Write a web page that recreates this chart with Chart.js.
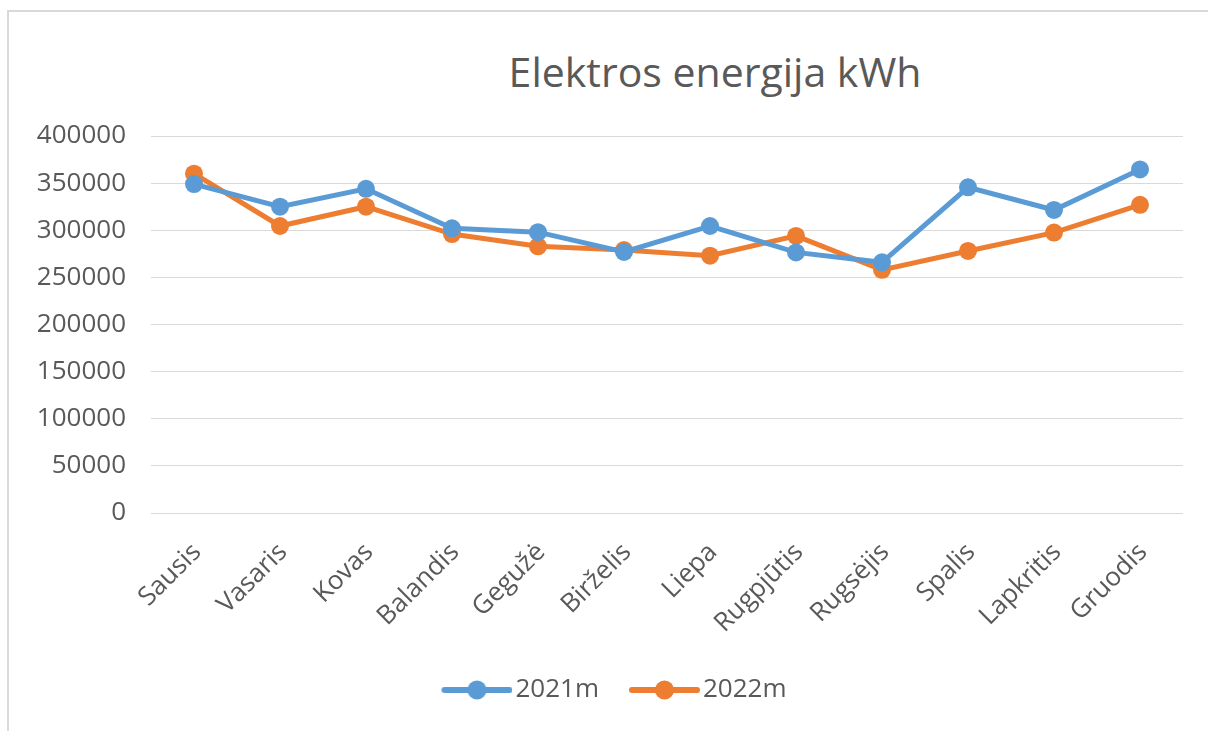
<!DOCTYPE html>
<html>
<head>
<meta charset="utf-8">
<title>Elektros energija kWh</title>
<script src="https://cdn.jsdelivr.net/npm/chart.js@4.4.1/dist/chart.umd.min.js"></script>
<style>
  html, body { margin: 0; padding: 0; background: #fff; overflow: hidden; }
  #frame { position: absolute; left: 7px; top: 10px; width: 1300px; height: 800px;
           border-left: 2px solid #d9d9d9; border-top: 2px solid #d9d9d9; }
  #chartTitle { position: absolute; left: 0; top: 44px; width: 1430px; text-align: center;
                font: 41px 'Open Sans', sans-serif; line-height: 54px; color: #595959; }
  #chartBox { position: absolute; left: 0; top: 0; width: 1208px; height: 731px; }
</style>
</head>
<body>
<div id="frame"></div>
<div id="chartTitle">Elektros energija kWh</div>
<div id="chartBox"><canvas id="energyChart"></canvas></div>
<script>
// Monthly electricity use, kWh
const months = ['Sausis', 'Vasaris', 'Kovas', 'Balandis', 'Gegužė', 'Birželis',
                'Liepa', 'Rugpjūtis', 'Rugsėjis', 'Spalis', 'Lapkritis', 'Gruodis'];
const seriesNames = ['2021m', '2022m'];
const usage2021 = [349000, 325000, 344000, 302000, 298000, 277000, 304500, 276500, 266000, 345500, 321500, 364500];
const usage2022 = [360000, 304500, 325000, 296000, 283000, 279000, 273000, 294000, 258000, 278000, 297500, 327000];
const yTicks = [0, 50000, 100000, 150000, 200000, 250000, 300000, 350000, 400000];

const blue = '#5b9bd5';
const orange = '#ed7d31';
const textGrey = '#595959';
const font = { family: "'Open Sans', sans-serif", size: 26 };
const padLeft = 35;

// legend symbol: short line with a dot in the middle
function legendMarker(color) {
    const c = document.createElement('canvas');
    c.width = 91;
    c.height = 22;
    const g = c.getContext('2d');
    g.strokeStyle = color;
    g.lineWidth = 6;
    g.lineCap = 'round';
    g.beginPath();
    g.moveTo(23, 11);
    g.lineTo(88, 11);
    g.stroke();
    g.fillStyle = color;
    g.beginPath();
    g.arc(55.5, 11, 9.5, 0, Math.PI * 2);
    g.fill();
    return c;
}
const markers = [legendMarker(blue), legendMarker(orange)];

const ctx = document.getElementById('energyChart').getContext('2d');
new Chart(ctx, {
    type: 'line',
    data: {
        labels: months,
        datasets: [
            {
                label: seriesNames[0],
                data: usage2021,
                borderColor: blue,
                backgroundColor: blue,
                borderWidth: 5,
                pointRadius: 9,
                pointBorderWidth: 0,
                pointBackgroundColor: blue,
                tension: 0,
            },
            {
                label: seriesNames[1],
                data: usage2022,
                borderColor: orange,
                backgroundColor: orange,
                borderWidth: 5,
                pointRadius: 9,
                pointBorderWidth: 0,
                pointBackgroundColor: orange,
                tension: 0,
            },
        ],
    },
    options: {
        responsive: true,
        maintainAspectRatio: false,
        animation: false,
        layout: { padding: { left: padLeft, right: 25, top: 136, bottom: 18 } },
        scales: {
            x: {
                offset: true,
                grid: { display: false },
                border: { display: false },
                ticks: {
                    color: textGrey,
                    font: font,
                    autoSkip: false,
                    maxRotation: 45,
                    minRotation: 45,
                    padding: 16,
                    labelOffset: 3,
                },
                afterFit: scale => { scale.height = 144; },
            },
            y: {
                min: yTicks[0],
                max: yTicks[yTicks.length - 1],
                grid: { color: '#d9d9d9', lineWidth: 1, drawTicks: false },
                border: { display: false },
                ticks: {
                    stepSize: yTicks[1] - yTicks[0],
                    color: textGrey,
                    font: font,
                    padding: 25,
                    callback: value => String(value),
                },
                afterFit: scale => { scale.width = 151 - padLeft; },
            },
        },
        plugins: {
            title: { display: false },
            tooltip: { enabled: false },
            legend: {
                position: 'bottom',
                labels: {
                    color: textGrey,
                    font: font,
                    usePointStyle: true,
                    pointStyleWidth: 71,
                    padding: 20,
                    generateLabels: chart =>
                        Chart.defaults.plugins.legend.labels.generateLabels(chart)
                            .map((item, i) => ({ ...item, pointStyle: markers[i] })),
                },
            },
        },
    },
});
</script>
</body>
</html>
